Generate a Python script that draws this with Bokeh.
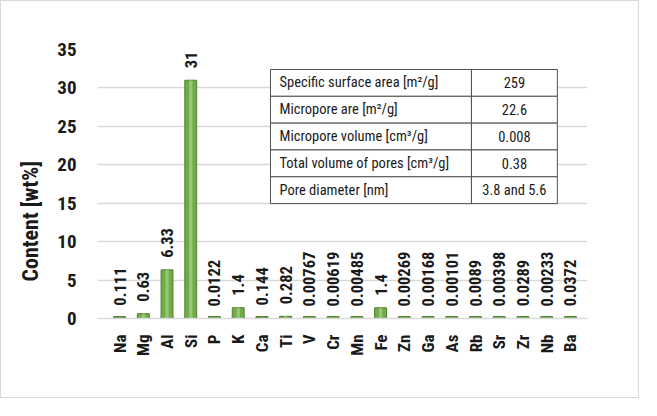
from bokeh.plotting import figure
from bokeh.models import Range1d, FixedTicker, ColumnDataSource, Title
from bokeh.core.properties import value
from bokeh.embed import file_html
from bokeh.resources import INLINE

elements = ["Na", "Mg", "Al", "Si", "P", "K", "Ca", "Ti", "V", "Cr", "Mn", "Fe",
            "Zn", "Ga", "As", "Rb", "Sr", "Zr", "Nb", "Ba"]
content = [0.111, 0.63, 6.33, 31, 0.0122, 1.4, 0.144, 0.282, 0.00767, 0.00619, 0.00485,
           1.4, 0.00269, 0.00168, 0.00101, 0.0089, 0.00398, 0.0289, 0.00233, 0.0372]
content_labels = ["0.111", "0.63", "6.33", "31", "0.0122", "1.4", "0.144", "0.282", "0.00767",
                  "0.00619", "0.00485", "1.4", "0.00269", "0.00168", "0.00101", "0.0089",
                  "0.00398", "0.0289", "0.00233", "0.0372"]
y_ticks = [0, 5, 10, 15, 20, 25, 30, 35]
y_title = "Content [wt%]"

table_names = ["Specific surface area [m\u00b2/g]", "Micropore are  [m\u00b2/g]",
               "Micropore volume [cm\u00b3/g]", "Total volume of pores [cm\u00b3/g]",
               "Pore diameter [nm]"]
table_values = ["259", "22.6", "0.008", "0.38", "3.8 and 5.6"]

FONT = "'Liberation Sans Narrow', 'Arial Narrow', 'Roboto Condensed', 'Liberation Sans', sans-serif"

xs = list(range(len(elements)))
src = ColumnDataSource(dict(x=xs, top=content, lab=content_labels))

p = figure(width=639, height=398, output_backend="svg", toolbar_location=None,
           x_range=Range1d(-0.93, 19.72), y_range=Range1d(0, 35),
           min_border_left=96, min_border_right=53, min_border_top=48, min_border_bottom=81)
p.styles = {"border": "1px solid #d9d9d9"}
p.outline_line_color = None
p.background_fill_color = "white"
p.border_fill_color = "white"

# bars
p.rect(x="x", y=0, width=0.5, height=4, height_units="screen", source=src,
       fill_color="#70ad47", line_color="#548235", line_width=1)
p.vbar(x="x", top="top", bottom=0, width=0.5, source=src,
       fill_color="#70ad47", line_color="#507e32", line_width=1)
p.vbar(x="x", top="top", bottom=0, width=0.14, source=src,
       fill_color="#a6d08a", line_color=None, fill_alpha=0.7)

# data labels
p.text(x="x", y="top", text="lab", source=src, angle=1.5708, y_offset=-12,
       text_align="left", text_baseline="middle",
       text_font=value(FONT), text_font_style="bold", text_font_size="16.5px", text_color="#1a1a1a")

# table (annotation box in data space)
t_left, t_split, t_right = 6.36, 14.83, 18.45
t_top, t_bot = 32.4, 14.95
n = len(table_names)
rh = (t_top - t_bot) / n
row_tops = [t_top - i * rh for i in range(n)]
row_mid = [t - rh / 2 for t in row_tops]
p.quad(left=[t_left] * n, right=[t_split] * n, top=row_tops, bottom=[t - rh for t in row_tops],
       fill_color="white", line_color="#505050", line_width=1)
p.quad(left=[t_split] * n, right=[t_right] * n, top=row_tops, bottom=[t - rh for t in row_tops],
       fill_color="white", line_color="#505050", line_width=1)
p.text(x=[t_left] * n, y=row_mid, text=table_names, x_offset=9, text_align="left",
       text_baseline="middle", text_font=value(FONT), text_font_size="14.5px", text_color="#1a1a1a")
p.text(x=[(t_split + t_right) / 2] * n, y=row_mid, text=table_values, text_align="center",
       text_baseline="middle", text_font=value(FONT), text_font_size="14.5px", text_color="#1a1a1a")

# y-axis title placed lower, as in the reference
p.add_layout(Title(text=y_title, align="left", offset=30, padding=7, text_font=FONT,
                   text_font_style="bold", text_font_size="22px", text_color="#1a1a1a"), "left")

# axes
p.xgrid.grid_line_color = None
p.ygrid.grid_line_color = "#d9d9d9"
p.ygrid.grid_line_width = 1.5
p.yaxis.ticker = FixedTicker(ticks=y_ticks)
p.yaxis.axis_line_color = None
p.yaxis.major_tick_line_color = None
p.yaxis.minor_tick_line_color = None
p.yaxis.major_label_standoff = 15
p.yaxis.major_label_text_font = FONT
p.yaxis.major_label_text_font_style = "bold"
p.yaxis.major_label_text_font_size = "19px"
p.yaxis.major_label_text_color = "#1a1a1a"

p.xaxis.ticker = FixedTicker(ticks=xs)
p.xaxis.major_label_overrides = {i: e for i, e in enumerate(elements)}
p.xaxis.major_label_orientation = 1.5708
p.xaxis.axis_line_color = "#d9d9d9"
p.xaxis.axis_line_width = 1.5
p.xaxis.major_tick_line_color = None
p.xaxis.minor_tick_line_color = None
p.xaxis.major_label_standoff = 10
p.xaxis.major_label_text_font = FONT
p.xaxis.major_label_text_font_style = "bold"
p.xaxis.major_label_text_font_size = "17px"
p.xaxis.major_label_text_color = "#1a1a1a"

open("out.html", "w").write(file_html(p, INLINE))
